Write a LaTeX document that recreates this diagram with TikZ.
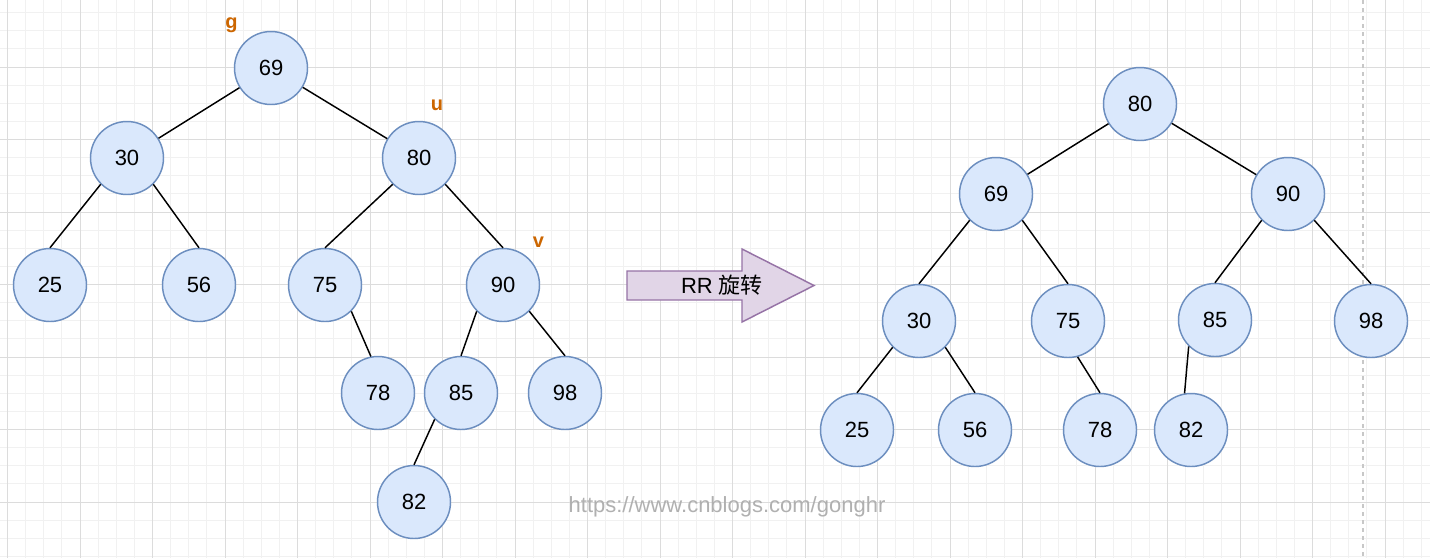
\documentclass[tikz,border=0pt]{standalone}
\usepackage{fontspec}
\setmainfont{Liberation Sans}
\newfontfamily\cjk{Noto Sans CJK SC}
\definecolor{nodefill}{HTML}{DAE8FC}
\definecolor{nodeline}{HTML}{6C8EBF}
\definecolor{arrfill}{HTML}{E1D5E7}
\definecolor{arrline}{HTML}{9673A6}
\definecolor{lbl}{HTML}{CC6600}
\definecolor{gridminor}{HTML}{F1F1F1}
\definecolor{gridmajor}{HTML}{DCDCDC}
\definecolor{wmark}{HTML}{B0B0B0}
\definecolor{dashc}{HTML}{C8C8C8}
\tikzset{
  tnode/.style={circle, minimum size=54.75pt, inner sep=0pt, fill=nodefill, draw=nodeline, line width=1.1pt, font=\fontsize{16.5}{18}\selectfont},
  tedge/.style={line width=1.1pt, black},
  lab/.style={text=lbl, font=\fontsize{15}{17}\selectfont\bfseries, inner sep=0pt, anchor=base},
}
\begin{document}
\begin{tikzpicture}[x=0.75pt, y=-0.75pt]
\useasboundingbox (0,0) rectangle (1430,558);
\fill[white] (0,0) rectangle (1430,558);
% grid
\foreach \i in {0,...,78} { \draw[gridminor, line width=0.75pt] ({7.5+\i*18.125},0) -- ({7.5+\i*18.125},558); }
\foreach \i in {0,...,30} { \draw[gridminor, line width=0.75pt] (0,{12.625+\i*18.125}) -- (1430,{12.625+\i*18.125}); }
\foreach \i in {0,...,19} { \draw[gridmajor, line width=0.75pt] ({7.5+\i*72.5},0) -- ({7.5+\i*72.5},558); }
\foreach \i in {0,...,6} { \draw[gridmajor, line width=0.75pt] (0,{67+\i*72.5}) -- (1430,{67+\i*72.5}); }
\draw[dashc, line width=1.1pt, dash pattern=on 3pt off 3pt] (1363,0) -- (1363,558);

% left tree
\node[tnode] (L69) at (271,68) {69};
\node[tnode] (L30) at (127,158) {30};
\node[tnode] (L80) at (419,158) {80};
\node[tnode] (L25) at (50,285) {25};
\node[tnode] (L56) at (199,285) {56};
\node[tnode] (L75) at (325,285) {75};
\node[tnode] (L90) at (503,285) {90};
\node[tnode] (L78) at (378,393) {78};
\node[tnode] (L85) at (461,393) {85};
\node[tnode] (L98) at (565,393) {98};
\node[tnode] (L82) at (414,502) {82};

\draw[tedge] (L69) -- (L30);
\draw[tedge] (L69) -- (L80);
\draw[tedge] (L30.south west) -- (L25.north);
\draw[tedge] (L30.south east) -- (L56.north);
\draw[tedge] (L80.south west) -- (L75.north);
\draw[tedge] (L80.south east) -- (L90.north);
\draw[tedge] (L75.south east) -- (L78.101);
\draw[tedge] (L90.south west) -- (L85.north);
\draw[tedge] (L90.south east) -- (L98.north);
\draw[tedge] (L85.south west) -- (L82.north);

\node[lab] (lg) at (231.5,28.5) {g};
\node[lab] (lu) at (437,110) {u};
\node[lab] (lv) at (538.5,247.5) {v};

% arrow
\draw[fill=arrfill, draw=arrline, line width=1.1pt, line join=miter]
  (627,271) -- (742,271) -- (742,249) -- (814,285.5) -- (742,322) -- (742,300) -- (627,300) -- cycle;
\node[font=\fontsize{16.5}{18}\selectfont, inner sep=0pt] (rr) at (722,285.5) {RR {\cjk 旋转}};

% right tree
\node[tnode] (R80) at (1140,104) {80};
\node[tnode] (R69) at (996,194) {69};
\node[tnode] (R90) at (1288,194) {90};
\node[tnode] (R30) at (919,321) {30};
\node[tnode] (R75) at (1068,321) {75};
\node[tnode] (R85) at (1215,320) {85};
\node[tnode] (R98) at (1371,321) {98};
\node[tnode] (R25) at (857,430) {25};
\node[tnode] (R56) at (975,430) {56};
\node[tnode] (R78) at (1100,430) {78};
\node[tnode] (R82) at (1191,430) {82};

\draw[tedge] (R80) -- (R69);
\draw[tedge] (R80) -- (R90);
\draw[tedge] (R69.south west) -- (R30.north);
\draw[tedge] (R69.south east) -- (R75.north);
\draw[tedge] (R90.south west) -- (R85.north);
\draw[tedge] (R90.south east) -- (R98.north);
\draw[tedge] (R30.south west) -- (R25.north);
\draw[tedge] (R30.south east) -- (R56.north);
\draw[tedge] (R75.-75) -- (R78.north);
\draw[tedge] (R85.south west) -- (R82.100);

% watermark
\node[text=wmark, font=\fontsize{16.5}{18}\selectfont, inner sep=0pt, anchor=base] (wm) at (727,512) {https://www.cnblogs.com/gonghr};
\end{tikzpicture}
\end{document}
